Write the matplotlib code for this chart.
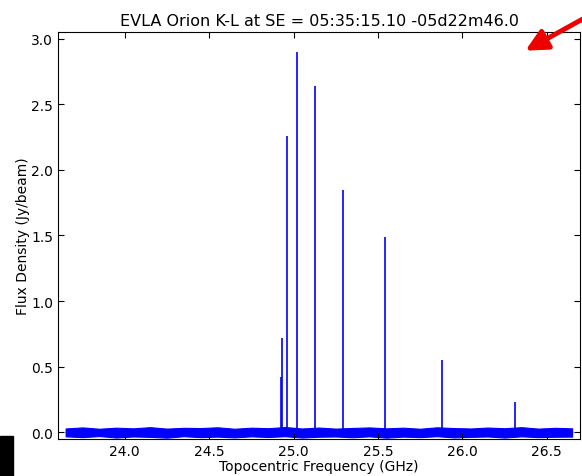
import matplotlib
matplotlib.use("Agg")
import matplotlib.pyplot as plt

# methanol lines seen in the spectrum (GHz) and peak flux (Jy/beam)
line_freq = [24.9287, 24.9335, 24.9591, 25.0181, 25.1249, 25.2944, 25.5415, 25.8782, 26.3131]
line_peak = [0.42, 0.72, 2.26, 2.90, 2.64, 1.85, 1.49, 0.55, 0.23]

# noise band edges
band_freq = [23.65, 23.75, 23.85, 23.95, 24.05, 24.15, 24.25, 24.35, 24.45, 24.55,
             24.65, 24.75, 24.85, 24.95, 25.05, 25.15, 25.25, 25.35, 25.45, 25.55,
             25.65, 25.75, 25.85, 25.95, 26.05, 26.15, 26.25, 26.35, 26.45, 26.55, 26.65]
band_hi = [0.030, 0.038, 0.028, 0.036, 0.031, 0.040, 0.029, 0.035, 0.033, 0.039,
           0.028, 0.036, 0.032, 0.041, 0.030, 0.037, 0.029, 0.034, 0.038, 0.031,
           0.036, 0.028, 0.039, 0.033, 0.030, 0.037, 0.032, 0.040, 0.029, 0.035, 0.031]
band_lo = [-0.030, -0.036, -0.028, -0.039, -0.031, -0.034, -0.040, -0.029, -0.036, -0.032,
           -0.038, -0.030, -0.035, -0.029, -0.039, -0.033, -0.031, -0.037, -0.030, -0.040,
           -0.032, -0.036, -0.029, -0.038, -0.034, -0.031, -0.039, -0.030, -0.036, -0.033, -0.032]

fig = plt.figure(figsize=(5.82, 4.77), dpi=100)
ax = fig.add_axes([0.0997, 0.0776, 0.8969, 0.8532])

ax.fill_between(band_freq, band_lo, band_hi, color="b", lw=0.8)
ax.plot(band_freq, [0] * len(band_freq), color="b", lw=1)
ax.vlines(line_freq, 0, line_peak, color="b", lw=1.2)

ax.set_xlim(23.605, 26.697)
ax.set_ylim(-0.05, 3.05)
ax.set_xticks([24.0, 24.5, 25.0, 25.5, 26.0, 26.5])
ax.set_yticks([0.0, 0.5, 1.0, 1.5, 2.0, 2.5, 3.0])
ax.tick_params(direction="in", top=True, right=True, labelsize=10, length=4)
ax.set_xlabel("Topocentric Frequency (GHz)", fontsize=10, labelpad=1)
ax.set_ylabel("Flux Density (Jy/beam)", fontsize=10, labelpad=1)
ax.set_title("EVLA Orion K-L at SE = 05:35:15.10 -05d22m46.0", fontsize=11.5, pad=5)

# black block and red arrow drawn over the figure
fig.patches.append(plt.Rectangle((0.0, 0.0), 0.022, 0.084, transform=fig.transFigure,
                                 color="black", zorder=5))
ax.annotate("", xy=(523, 477 - 53), xycoords="figure pixels",
            xytext=(590, 477 - 16), textcoords="figure pixels",
            arrowprops=dict(arrowstyle="-|>,head_length=1.3,head_width=0.65",
                            color="#ee0000", lw=3.5),
            annotation_clip=False)

fig.savefig("out.png", dpi=100)
